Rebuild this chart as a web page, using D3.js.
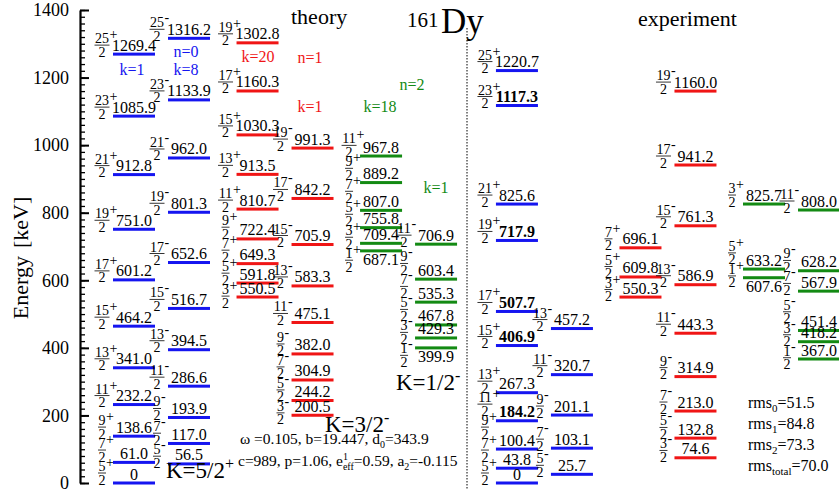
<!DOCTYPE html>
<html>
<head>
<meta charset="utf-8">
<script src="https://cdn.jsdelivr.net/npm/d3@7"></script>
<style>
  html, body { margin: 0; padding: 0; background: #fff; }
  svg { display: block; font-family: "Liberation Serif", "Times New Roman", serif; }
</style>
</head>
<body>
<svg id="chart" width="839" height="490"></svg>
<script>
// spin sequences (numerator/denominator)
const spinsK52 = ["5/2", "7/2", "9/2", "11/2", "13/2", "15/2", "17/2", "19/2", "21/2", "23/2", "25/2"];
const spinsK32 = ["3/2", "5/2", "7/2", "9/2", "11/2", "13/2", "15/2", "17/2", "19/2"];
const spinsK12 = ["1/2", "3/2", "5/2", "7/2", "9/2", "11/2"];

// theory levels [keV]
const thN0Plus = [0, 61.0, 138.6, 232.2, 341.0, 464.2, 601.2, 751.0, 912.8, 1085.9, 1269.4];
const thN0Minus = [56.5, 117.0, 193.9, 286.6, 394.5, 516.7, 652.6, 801.3, 962.0, 1133.9, 1316.2];
const thN1Plus = [550.5, 591.8, 649.3, 722.4, 810.7, 913.5, 1030.3, 1160.3, 1302.8];
const thN1Minus = [200.5, 244.2, 304.9, 382.0, 475.1, 583.3, 705.9, 842.2, 991.3];
const thN2Plus = [687.1, 709.4, 755.8, 807.0, 889.2, 967.8];
const thN2Minus = [399.9, 429.3, 467.8, 535.3, 603.4, 706.9];

// experiment levels [keV]
const exN0Plus = [0, 43.8, 100.4, 184.2, 267.3, 406.9, 507.7, 717.9, 825.6, 1117.3, 1220.7];
const exN0Minus = [25.7, 103.1, 201.1, 320.7, 457.2];
const exN1Plus = [550.3, 609.8, 696.1];
const exN1Minus = [74.6, 132.8, 213.0, 314.9, 443.3, 586.9, 761.3, 941.2, 1160.0];
const exN2Plus = [607.6, 825.7, 633.2];
const exN2Minus = [367.0, 418.2, 451.4, 567.9, 628.2, 808.0];
const exBold = [184.2, 406.9, 507.7, 717.9, 1117.3];

const majorTicks = [0, 200, 400, 600, 800, 1000, 1200, 1400];
const rmsValues = [["0", "51.5"], ["1", "84.8"], ["2", "73.3"], ["total", "70.0"]];

const columns = [
  { side: 0, band: 0, parity: "+", spins: spinsK52, en: thN0Plus },
  { side: 0, band: 0, parity: "-", spins: spinsK52, en: thN0Minus },
  { side: 0, band: 1, parity: "+", spins: spinsK32, en: thN1Plus },
  { side: 0, band: 1, parity: "-", spins: spinsK32, en: thN1Minus },
  { side: 0, band: 2, parity: "+", spins: spinsK12, en: thN2Plus },
  { side: 0, band: 2, parity: "-", spins: spinsK12, en: thN2Minus },
  { side: 1, band: 0, parity: "+", spins: spinsK52, en: exN0Plus },
  { side: 1, band: 0, parity: "-", spins: spinsK52, en: exN0Minus },
  { side: 1, band: 1, parity: "+", spins: spinsK32, en: exN1Plus },
  { side: 1, band: 1, parity: "-", spins: spinsK32, en: exN1Minus },
  { side: 1, band: 2, parity: "+", spins: spinsK12, en: exN2Plus },
  { side: 1, band: 2, parity: "-", spins: spinsK12, en: exN2Minus },
];

const svg = d3.select("#chart");
const yE = d3.scaleLinear().domain([0, 1400]).range([483, 10]);
const slot = d3.scaleLinear().domain([0, 5.1]).range([113, 743]);
const barW = 42, pairStep = 55;
const colorOf = ["#1515f0", "#f01515", "#138a13"];
const fracFont = 14, digitW = 7;

const colX = (side, band, parity) =>
  slot(side * 3 + band + side * 0.1) + (parity === "-" ? pairStep : 0);

// spread spin fractions so they do not pile up
function relax(items, gap, lo, hi) {
  items.forEach((d) => (d.spinY = d.want));
  const s = items.slice().sort((a, b) => a.want - b.want);
  for (let k = 0; k < 400; k++) {
    let moved = false;
    for (let i = 0; i < s.length - 1; i++) {
      const diff = s[i + 1].spinY - s[i].spinY;
      if (diff < gap - 0.05) {
        const m = (gap - diff) / 2;
        s[i].spinY -= m;
        s[i + 1].spinY += m;
        moved = true;
      }
    }
    s.forEach((d) => (d.spinY = Math.max(lo, Math.min(hi, d.spinY))));
    if (!moved) break;
  }
}

const levels = [];
columns.forEach((c) => {
  const x0 = colX(c.side, c.band, c.parity);
  const lv = c.en.map((E, i) => ({
    j: c.spins[i],
    E,
    parity: c.parity,
    x0,
    by: yE(E),
    color: colorOf[c.band],
    bold: c.side === 1 && exBold.includes(E),
  }));
  // energy labels: above the bar, or below it when too close to the one above
  let prev = null;
  lv.slice()
    .sort((a, b) => b.E - a.E)
    .forEach((d) => {
      const want = d.by - 9;
      d.labY = prev !== null && want - prev < 10.5 ? d.by + 9 : want;
      prev = d.labY;
    });
  lv.forEach((d) => (d.want = d.by - 9));
  relax(lv, 23, 20, 473);
  levels.push(...lv);
});

// axis
const minorG = svg.append("g").attr("transform", "translate(80,0)");
minorG.call(
  d3.axisLeft(yE).tickValues(d3.range(0, 1401, 20)).tickSizeInner(-5).tickSizeOuter(0).tickFormat("")
);
minorG.select(".domain").remove();
minorG.selectAll(".tick line").attr("stroke", "#000").attr("stroke-width", 1.3);

const axisG = svg
  .append("g")
  .attr("transform", "translate(80,0)");
axisG.call(
  d3
    .axisLeft(yE)
    .tickValues(majorTicks)
    .tickFormat(d3.format("d"))
    .tickSizeInner(-9)
    .tickSizeOuter(0)
    .tickPadding(11)
);
axisG.attr("font-family", "Liberation Serif").attr("font-size", 18);
axisG.select(".domain").attr("stroke", "#000").attr("stroke-width", 2.2);
axisG.selectAll(".tick line").attr("stroke", "#000").attr("stroke-width", 2);
axisG.selectAll(".tick text").attr("fill", "#000");

svg
  .append("text")
  .attr("transform", "translate(28,258) rotate(-90)")
  .attr("text-anchor", "middle")
  .attr("font-size", 22)
  .text("Energy")
  .append("tspan")
  .attr("dx", 8)
  .text("[keV]");

// level bars
svg
  .selectAll("rect.level")
  .data(levels)
  .join("rect")
  .attr("class", "level")
  .attr("x", (d) => d.x0)
  .attr("y", (d) => d.by - 1.5)
  .attr("width", barW)
  .attr("height", 3)
  .attr("fill", (d) => d.color);

// energy labels
svg
  .selectAll("text.energy")
  .data(levels)
  .join("text")
  .attr("class", "energy")
  .attr("x", (d) => d.x0 + barW / 2)
  .attr("y", (d) => d.labY + 5.5)
  .attr("text-anchor", "middle")
  .attr("font-size", 16)
  .attr("font-weight", (d) => (d.bold ? "bold" : "normal"))
  .text((d) => (d.E === 0 ? "0" : d.E.toFixed(1)));

// spin fractions
const numOf = (d) => d.j.split("/")[0];
const spinG = svg
  .selectAll("g.spin")
  .data(levels)
  .join("g")
  .attr("class", "spin")
  .attr("transform", (d) => `translate(${d.x0 - 11},${d.spinY})`)
  .attr("font-size", fracFont);
spinG
  .append("text")
  .attr("y", -2)
  .attr("text-anchor", "middle")
  .text(numOf);
spinG
  .append("line")
  .attr("x1", (d) => (-numOf(d).length * digitW) / 2 - 0.5)
  .attr("x2", (d) => (numOf(d).length * digitW) / 2 + 0.5)
  .attr("stroke", "#000")
  .attr("stroke-width", 0.8);
spinG
  .append("text")
  .attr("y", 11.5)
  .attr("text-anchor", "middle")
  .text((d) => d.j.split("/")[1]);
spinG
  .append("text")
  .attr("x", (d) => (numOf(d).length * digitW) / 2 + 0.5)
  .attr("y", (d) => (d.parity === "+" ? -6 : -7))
  .text((d) => d.parity);

// band annotations
const notes = [
  ["k=1", 0, 132, 75],
  ["n=0", 0, 186, 57],
  ["k=8", 0, 186, 75],
  ["k=20", 1, 258, 62],
  ["n=1", 1, 310, 63],
  ["k=1", 1, 310, 112],
  ["k=18", 2, 380, 112],
  ["n=2", 2, 412, 90],
  ["k=1", 2, 436, 193],
];
svg
  .selectAll("text.note")
  .data(notes)
  .join("text")
  .attr("class", "note")
  .attr("x", (d) => d[2])
  .attr("y", (d) => d[3])
  .attr("text-anchor", "middle")
  .attr("font-size", 16)
  .attr("fill", (d) => colorOf[d[1]])
  .text((d) => d[0]);

// K labels
const kLabels = [
  ["K=5/2", "+", 166, 478],
  ["K=3/2", "-", 325, 432],
  ["K=1/2", "-", 396, 390],
];
const kT = svg
  .selectAll("text.klab")
  .data(kLabels)
  .join("text")
  .attr("class", "klab")
  .attr("x", (d) => d[2])
  .attr("y", (d) => d[3])
  .attr("font-size", 23)
  .text((d) => d[0]);
kT.append("tspan")
  .attr("dy", -9)
  .attr("font-size", 16)
  .text((d) => d[1]);

// titles
svg.append("text").attr("x", 291).attr("y", 24).attr("font-size", 22).text("theory");
svg.append("text").attr("x", 638).attr("y", 26).attr("font-size", 22).text("experiment");
svg.append("text").attr("x", 407).attr("y", 27).attr("font-size", 21).text("161");
svg.append("text").attr("x", 441).attr("y", 33).attr("font-size", 35).text("Dy");

svg
  .append("line")
  .attr("x1", 467)
  .attr("x2", 467)
  .attr("y1", 28)
  .attr("y2", 490)
  .attr("stroke", "#000")
  .attr("stroke-width", 1)
  .attr("stroke-dasharray", "1.5,1.5");

// model parameters
const p1 = svg.append("text").attr("x", 240).attr("y", 444).attr("font-size", 15.5);
p1.append("tspan").text("ω =0.105, b=19.447, d");
p1.append("tspan").attr("dy", 4).attr("font-size", 10).text("0");
p1.append("tspan").attr("dy", -4).text("=343.9");

const p2 = svg.append("text").attr("x", 238).attr("y", 466).attr("font-size", 15.5);
p2.append("tspan").text("c=989, p=1.06, e");
p2.append("tspan").attr("dy", -6).attr("font-size", 10).text("1");
p2.append("tspan").attr("dx", -5).attr("dy", 10).attr("font-size", 10).text("eff");
p2.append("tspan").attr("dy", -4).text("=0.59, a");
p2.append("tspan").attr("dy", 4).attr("font-size", 10).text("2");
p2.append("tspan").attr("dy", -4).text("=-0.115");

// rms values
rmsValues.forEach((r, i) => {
  const t = svg.append("text").attr("x", 748).attr("y", 408 + i * 21).attr("font-size", 16);
  t.append("tspan").text("rms");
  t.append("tspan").attr("dy", 4).attr("font-size", 11).text(r[0]);
  t.append("tspan").attr("dy", -4).text("=" + r[1]);
});
</script>
</body>
</html>
